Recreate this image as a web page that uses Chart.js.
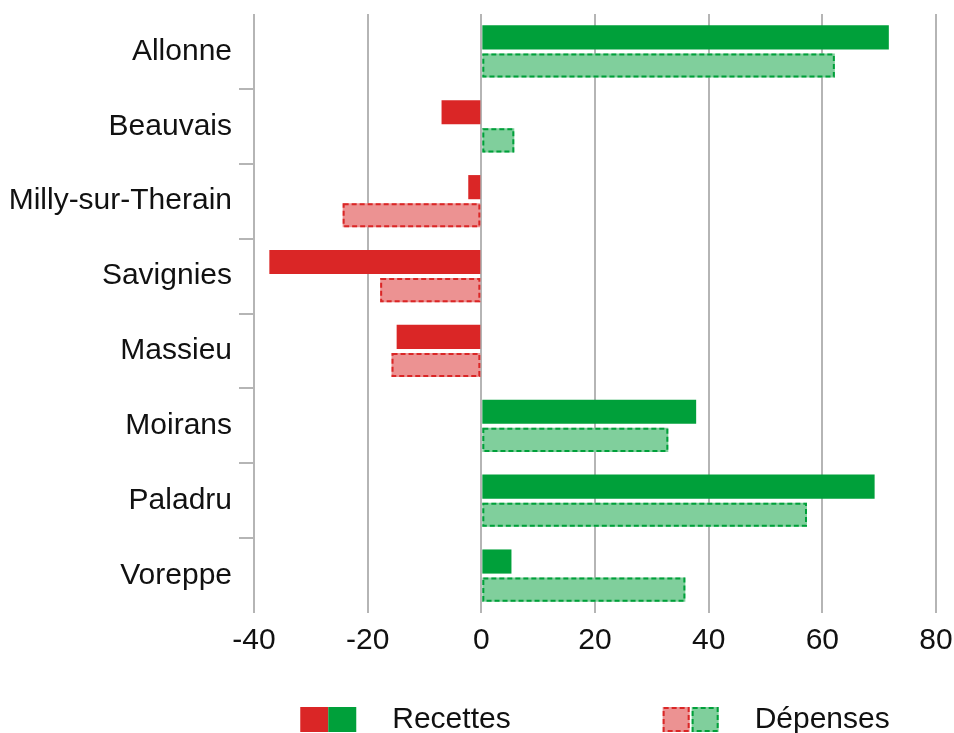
<!DOCTYPE html>
<html>
<head>
<meta charset="utf-8">
<script src="https://cdn.jsdelivr.net/npm/chart.js@4"></script>
<style>
  html, body { margin: 0; padding: 0; background: #fff; }
  #wrap { width: 954px; height: 733px; }
</style>
</head>
<body>
<div id="wrap"><canvas id="chart"></canvas></div>
<script>
// Data
const communes = ["Allonne", "Beauvais", "Milly-sur-Therain", "Savignies", "Massieu", "Moirans", "Paladru", "Voreppe"];
const recettes = [71.7, -7, -2.3, -37.3, -14.9, 37.8, 69.2, 5.3];
const depenses = [62.2, 5.8, -24.4, -17.8, -15.8, 32.9, 57.3, 35.9];
const xTicks = [-40, -20, 0, 20, 40, 60, 80];

const RED = "#da2626";
const GREEN = "#00a03a";
const RED_LIGHT = "#ec9292";
const GREEN_LIGHT = "#80cf9c";
const FONT = "'Liberation Sans', Arial, sans-serif";
const FONT_SIZE = 30;

// dashed outline for the Dépenses bars
const dashedBorders = {
  id: "dashedBorders",
  afterDatasetsDraw(chart) {
    const meta = chart.getDatasetMeta(1);
    const ctx = chart.ctx;
    ctx.save();
    ctx.lineWidth = 2;
    ctx.setLineDash([5, 3]);
    meta.data.forEach((bar, i) => {
      const { x, y, base, height } = bar.getProps(["x", "y", "base", "height"], true);
      const left = Math.min(x, base);
      const w = Math.abs(x - base);
      ctx.strokeStyle = depenses[i] < 0 ? RED : GREEN;
      ctx.strokeRect(left + 1, y - height / 2 + 1, w - 2, height - 2);
    });
    ctx.restore();
  },
};

// legend with two-colour swatches
const swatchLegend = {
  id: "swatchLegend",
  afterDraw(chart) {
    const ctx = chart.ctx;
    const area = chart.chartArea;
    const sw = 56, sh = 25, gapText = 36, gapItem = 152;
    ctx.save();
    ctx.font = FONT_SIZE + "px " + FONT;
    const labels = chart.data.datasets.map((ds) => ds.label);
    const widths = labels.map((l) => ctx.measureText(l).width);
    const total = sw * 2 + gapText * 2 + widths[0] + widths[1] + gapItem;
    let x = (area.left + area.right) / 2 - total / 2;
    const y = 719.5;

    // Recettes
    ctx.fillStyle = RED;
    ctx.fillRect(x, y - sh / 2, sw / 2, sh);
    ctx.fillStyle = GREEN;
    ctx.fillRect(x + sw / 2, y - sh / 2, sw / 2, sh);
    ctx.fillStyle = "#111";
    ctx.textBaseline = "middle";
    ctx.fillText(labels[0], x + sw + gapText, y);
    x += sw + gapText + widths[0] + gapItem;

    // Dépenses
    ctx.lineWidth = 2;
    ctx.setLineDash([5, 3]);
    ctx.fillStyle = RED_LIGHT;
    ctx.fillRect(x, y - sh / 2, 27, sh);
    ctx.strokeStyle = RED;
    ctx.strokeRect(x + 1, y - sh / 2 + 1, 25, sh - 2);
    ctx.fillStyle = GREEN_LIGHT;
    ctx.fillRect(x + 29, y - sh / 2, 27, sh);
    ctx.strokeStyle = GREEN;
    ctx.strokeRect(x + 30, y - sh / 2 + 1, 25, sh - 2);
    ctx.setLineDash([]);
    ctx.fillStyle = "#111";
    ctx.fillText(labels[1], x + sw + gapText, y);
    ctx.restore();
  },
};

new Chart(document.getElementById("chart"), {
  type: "bar",
  data: {
    labels: communes,
    datasets: [
      {
        label: "Recettes",
        data: recettes,
        backgroundColor: (c) => (c.raw < 0 ? RED : GREEN),
        borderWidth: 0,
        categoryPercentage: 0.75,
        barPercentage: 0.86,
      },
      {
        label: "Dépenses",
        data: depenses,
        backgroundColor: (c) => (c.raw < 0 ? RED_LIGHT : GREEN_LIGHT),
        borderWidth: 0,
        categoryPercentage: 0.75,
        barPercentage: 0.86,
      },
    ],
  },
  options: {
    indexAxis: "y",
    responsive: true,
    maintainAspectRatio: false,
    animation: false,
    layout: { padding: { top: 14, right: 18, bottom: 64, left: 0 } },
    plugins: {
      legend: { display: false },
      tooltip: { enabled: false },
    },
    scales: {
      x: {
        min: xTicks[0],
        max: xTicks[xTicks.length - 1],
        afterBuildTicks: (scale) => {
          scale.ticks = xTicks.map((v) => ({ value: v }));
        },
        afterFit: (scale) => {
          scale.paddingLeft = 0;
          scale.paddingRight = 0;
        },
        grid: { color: "#b5b5b5", lineWidth: 2, drawTicks: false },
        border: { display: false },
        ticks: {
          padding: 10,
          color: "#111",
          font: { family: FONT, size: FONT_SIZE },
        },
      },
      y: {
        afterFit: (scale) => {
          scale.width = 254;
          scale.paddingTop = 0;
          scale.paddingBottom = 0;
        },
        grid: {
          offset: true,
          drawOnChartArea: false,
          tickLength: 15,
          lineWidth: 2,
          // only the separators between communes, not the outer edges
          color: (c) =>
            c.type !== "tick" || c.index === 0 || c.index >= communes.length ? "rgba(0,0,0,0)" : "#b5b5b5",
        },
        border: { display: false },
        ticks: {
          padding: 7,
          color: "#111",
          font: { family: FONT, size: FONT_SIZE },
        },
      },
    },
  },
  plugins: [dashedBorders, swatchLegend],
});
</script>
</body>
</html>
